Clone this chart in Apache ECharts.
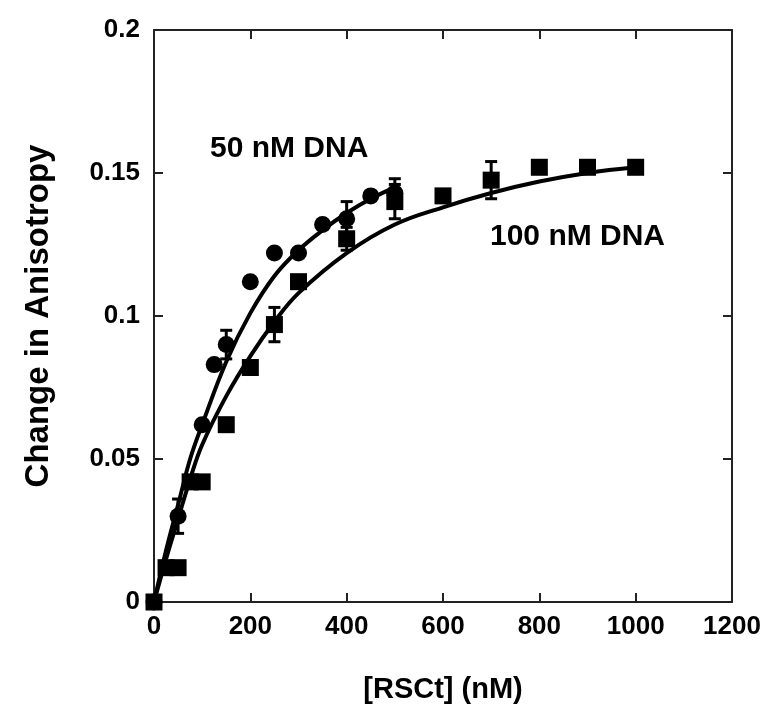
<!DOCTYPE html>
<html>
<head>
<meta charset="utf-8">
<script src="https://cdn.jsdelivr.net/npm/echarts@6/dist/echarts.min.js"></script>
<style>
html,body{margin:0;padding:0;background:#fff;}
#chart{width:765px;height:709px;}
</style>
</head>
<body>
<div id="chart"></div>
<script>
// ---- data ----
const xTicks = [0, 200, 400, 600, 800, 1000, 1200];
const yTicks = [0, 0.05, 0.1, 0.15, 0.2];

// 50 nM DNA (circles)
const circleX = [0, 50, 100, 125, 150, 200, 250, 300, 350, 400, 450, 500];
const circleY = [0, 0.030, 0.062, 0.083, 0.090, 0.112, 0.122, 0.122, 0.132, 0.134, 0.142, 0.143];
const circleErr = [0, 0.006, 0, 0, 0.005, 0, 0, 0, 0, 0.006, 0, 0.005];

// 100 nM DNA (squares)
const squareX = [0, 25, 50, 75, 100, 150, 200, 250, 300, 400, 500, 600, 700, 800, 900, 1000];
const squareY = [0, 0.012, 0.012, 0.042, 0.042, 0.062, 0.082, 0.097, 0.112, 0.127, 0.140, 0.142, 0.1475, 0.152, 0.152, 0.152];
const squareErr = [0, 0, 0, 0, 0, 0, 0, 0.006, 0, 0.004, 0.006, 0, 0.0065, 0, 0, 0];

// fitted curves
const fit50X = [0, 25, 50, 75, 100, 150, 200, 250, 300, 350, 400, 450, 500];
const fit50Y = [0, 0.018, 0.034, 0.050, 0.062, 0.084, 0.101, 0.114, 0.123, 0.130, 0.136, 0.141, 0.145];
const fit100X = [0, 25, 50, 75, 100, 150, 200, 250, 300, 400, 500, 600, 700, 800, 900, 1000];
const fit100Y = [0, 0.015, 0.029, 0.043, 0.055, 0.072, 0.086, 0.098, 0.108, 0.122, 0.132, 0.138, 0.143, 0.147, 0.150, 0.152];

const labels = ['50 nM DNA', '100 nM DNA'];
const xTitle = '[RSCt] (nM)';
const yTitle = 'Change in Anisotropy';

// ---- build ----
const zip = (xs, ys) => xs.map((x, i) => [x, ys[i]]);
const errData = (xs, ys, es) => xs.map((x, i) => [x, ys[i], es[i]]).filter(d => d[2] > 0);

const FONT = '"Liberation Sans", Arial, sans-serif';
const INK = '#000';

function errRender(params, api) {
  const x = api.value(0), y = api.value(1), e = api.value(2);
  const top = api.coord([x, y + e]);
  const bot = api.coord([x, y - e]);
  const w = 6;
  const st = { stroke: INK, lineWidth: 3 };
  return {
    type: 'group',
    children: [
      { type: 'line', shape: { x1: top[0], y1: top[1], x2: bot[0], y2: bot[1] }, style: st },
      { type: 'line', shape: { x1: top[0] - w, y1: top[1], x2: top[0] + w, y2: top[1] }, style: st },
      { type: 'line', shape: { x1: bot[0] - w, y1: bot[1], x2: bot[0] + w, y2: bot[1] }, style: st }
    ]
  };
}

const chart = echarts.init(document.getElementById('chart'), null, { renderer: 'canvas' });

const axisLine = { show: true, onZero: false, lineStyle: { color: '#222', width: 2 } };
const axisTick = { show: true, inside: true, length: 9, lineStyle: { color: '#222', width: 2 } };
const labelStyle = { color: INK, fontFamily: FONT, fontWeight: 'bold', fontSize: 26, formatter: v => String(v) };

chart.setOption({
  animation: false,
  backgroundColor: '#fff',
  grid: { left: 154, right: 33, top: 30, bottom: 101, containLabel: false },
  xAxis: [
    {
      type: 'value', min: xTicks[0], max: xTicks[xTicks.length - 1], interval: 200,
      position: 'bottom',
      axisLine, axisTick, splitLine: { show: false },
      axisLabel: Object.assign({ margin: 12 }, labelStyle),
      name: xTitle, nameLocation: 'middle', nameGap: 73,
      nameTextStyle: { color: INK, fontFamily: FONT, fontWeight: 'bold', fontSize: 29 }
    },
    {
      type: 'value', min: xTicks[0], max: xTicks[xTicks.length - 1], interval: 200,
      position: 'top',
      axisLine, axisTick, splitLine: { show: false }, axisLabel: { show: false }
    }
  ],
  yAxis: [
    {
      type: 'value', min: yTicks[0], max: yTicks[yTicks.length - 1], interval: 0.05,
      position: 'left',
      axisLine, axisTick, splitLine: { show: false },
      axisLabel: Object.assign({ margin: 14 }, labelStyle),
      name: yTitle, nameLocation: 'middle', nameGap: 99, nameRotate: 90,
      nameTextStyle: { color: INK, fontFamily: FONT, fontWeight: 'bold', fontSize: 33 }
    },
    {
      type: 'value', min: yTicks[0], max: yTicks[yTicks.length - 1], interval: 0.05,
      position: 'right',
      axisLine, axisTick, splitLine: { show: false }, axisLabel: { show: false }
    }
  ],
  graphic: [
    { type: 'text', left: 210, top: 134, style: { text: labels[0], fill: INK, font: 'bold 30px ' + FONT } },
    { type: 'text', left: 490, top: 222, style: { text: labels[1], fill: INK, font: 'bold 30px ' + FONT } }
  ],
  series: [
    {
      type: 'line', data: zip(fit50X, fit50Y), smooth: 0.4, showSymbol: false,
      lineStyle: { color: INK, width: 4 }, z: 3
    },
    {
      type: 'line', data: zip(fit100X, fit100Y), smooth: 0.4, showSymbol: false,
      lineStyle: { color: INK, width: 4 }, z: 3
    },
    {
      type: 'custom', renderItem: errRender, data: errData(circleX, circleY, circleErr),
      encode: { x: 0, y: [1, 2] }, z: 4
    },
    {
      type: 'custom', renderItem: errRender, data: errData(squareX, squareY, squareErr),
      encode: { x: 0, y: [1, 2] }, z: 4
    },
    {
      type: 'scatter', data: zip(circleX, circleY), symbol: 'circle', symbolSize: 17,
      itemStyle: { color: INK, opacity: 1 }, z: 5
    },
    {
      type: 'scatter', data: zip(squareX, squareY), symbol: 'rect', symbolSize: 17,
      itemStyle: { color: INK, opacity: 1 }, z: 5
    }
  ]
});
</script>
</body>
</html>
